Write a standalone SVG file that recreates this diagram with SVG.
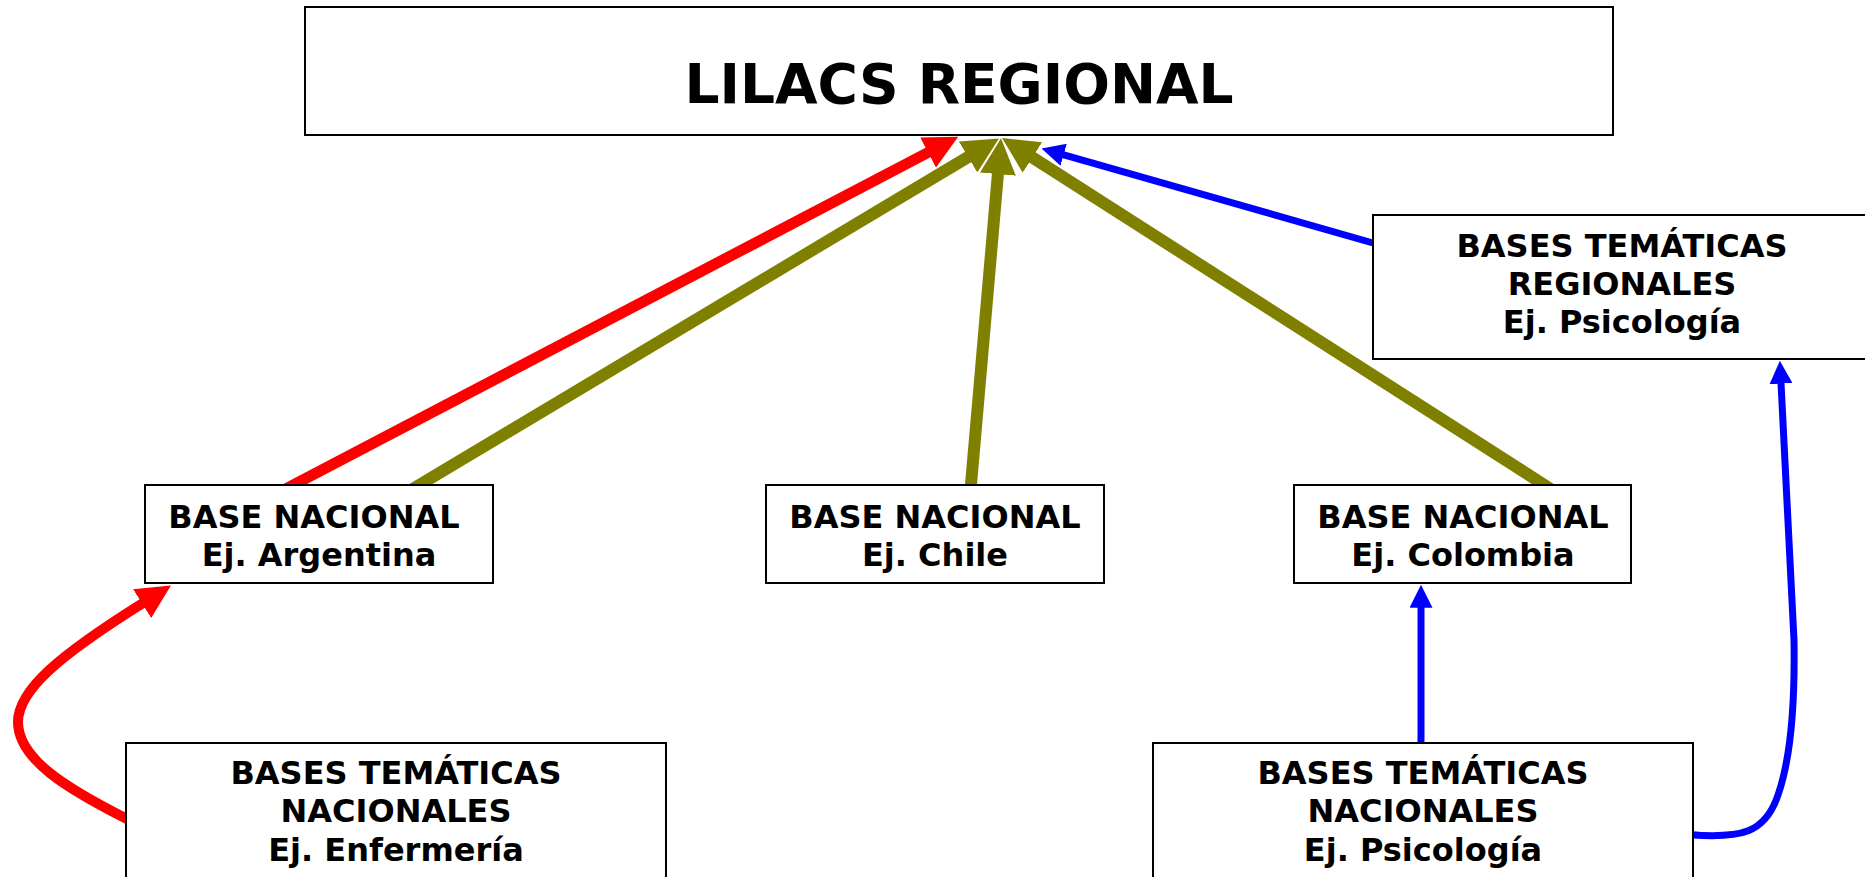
<svg xmlns="http://www.w3.org/2000/svg" width="1865" height="877" viewBox="0 0 1865 877">
<style>
.box{fill:#fff;stroke:#000;stroke-width:2}
.t{font-family:"DejaVu Sans","Verdana",sans-serif;font-weight:bold;font-size:32px;fill:#000;text-anchor:middle}
.title{font-size:55px}
.red{fill:none;stroke:#f00;stroke-width:11}
.olive{fill:none;stroke:#808000;stroke-width:12}
.blue{fill:none;stroke:#00f;stroke-width:7}
</style>
<defs>
<marker id="hr" viewBox="0 0 10 10" refX="0.3" refY="5" markerWidth="34" markerHeight="34" markerUnits="userSpaceOnUse" orient="auto"><path d="M0,0 L10,5 L0,10 z" fill="#f00"/></marker>
<marker id="ho" viewBox="0 0 10 10" refX="0.3" refY="5" markerWidth="36" markerHeight="36" markerUnits="userSpaceOnUse" orient="auto"><path d="M0,0 L10,5 L0,10 z" fill="#808000"/></marker>
<marker id="hb" viewBox="0 0 10 10" refX="0.3" refY="5" markerWidth="23" markerHeight="23" markerUnits="userSpaceOnUse" orient="auto"><path d="M0,0 L10,5 L0,10 z" fill="#00f"/></marker>
</defs>
<g id="connectors">
<path class="red" d="M284.4,489.6 L929,152" marker-end="url(#hr)"/>
<path class="olive" d="M410.7,490.2 L969,156.5" marker-end="url(#ho)"/>
<path class="olive" d="M970,496 L998,173" marker-end="url(#ho)"/>
<path class="olive" d="M1553,490.5 L1031.5,156.9" marker-end="url(#ho)"/>
<path class="blue" d="M1380,245 L1063,154.6" marker-end="url(#hb)"/>
<path class="blue" d="M1421,750 L1421,607" marker-end="url(#hb)"/>
<path class="blue" d="M1700,835.2 L1693,835 C1740,838 1765,834 1778,795 C1792,755 1795,700 1794,640 L1781,383" marker-end="url(#hb)"/>
<path class="red" style="stroke-width:10" d="M134,822.6 L125,818 C70,790 18,760 18,722 C18,690 60,655 143,603" marker-end="url(#hr)"/>
</g>
<g id="lilacs">
<rect class="box" x="305" y="7" width="1308" height="128"/>
<text class="t title" x="959" y="103">LILACS REGIONAL</text>
</g>
<g id="argentina">
<rect class="box" x="145" y="485" width="348" height="98"/>
<text class="t" x="314" y="528">BASE NACIONAL</text>
<text class="t" x="319" y="566">Ej. Argentina</text>
</g>
<g id="chile">
<rect class="box" x="766" y="485" width="338" height="98"/>
<text class="t" x="935" y="528">BASE NACIONAL</text>
<text class="t" x="935" y="566">Ej. Chile</text>
</g>
<g id="colombia">
<rect class="box" x="1294" y="485" width="337" height="98"/>
<text class="t" x="1463" y="528">BASE NACIONAL</text>
<text class="t" x="1463" y="566">Ej. Colombia</text>
</g>
<g id="regionales">
<rect class="box" x="1373" y="215" width="500" height="144"/>
<text class="t" x="1622" y="257">BASES TEMÁTICAS</text>
<text class="t" x="1622" y="295">REGIONALES</text>
<text class="t" x="1622" y="333">Ej. Psicología</text>
</g>
<g id="nacionales-enfermeria">
<rect class="box" x="126" y="743" width="540" height="150"/>
<text class="t" x="396" y="784">BASES TEMÁTICAS</text>
<text class="t" x="396" y="822">NACIONALES</text>
<text class="t" x="396" y="861">Ej. Enfermería</text>
</g>
<g id="nacionales-psicologia">
<rect class="box" x="1153" y="743" width="540" height="150"/>
<text class="t" x="1423" y="784">BASES TEMÁTICAS</text>
<text class="t" x="1423" y="822">NACIONALES</text>
<text class="t" x="1423" y="861">Ej. Psicología</text>
</g>
</svg>
